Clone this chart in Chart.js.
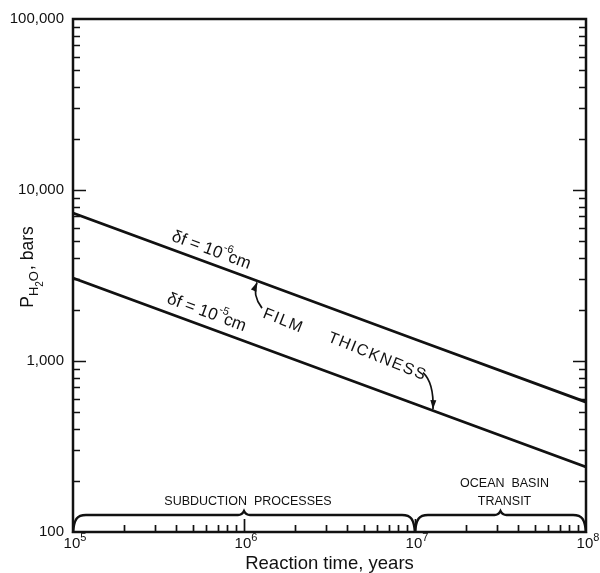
<!DOCTYPE html>
<html>
<head>
<meta charset="utf-8">
<script src="https://cdn.jsdelivr.net/npm/chart.js@4.4.1/dist/chart.umd.min.js"></script>
<style>
  html, body { margin: 0; background: #fff; }
  #wrap { width: 600px; height: 573px; }
</style>
</head>
<body>
<div id="wrap"><canvas id="chart"></canvas></div>
<script>
// reaction time (years) vs water pressure for two film thicknesses
const reactionTime = [1e5, 1e6, 1e7, 1e8];
const pThin  = [7340, 3140, 1340, 575];   // δf = 10^-6 cm
const pThick = [3060, 1310, 560, 240];    // δf = 10^-5 cm

const xTicks = [1e5, 1e6, 1e7, 1e8];
const xTickExp = ['5', '6', '7', '8'];
const yTicks = [100, 1000, 10000, 100000];
const yTickLabels = ['100', '1,000', '10,000', '100,000'];

// process brackets along the time axis
const bracketFrom = [1e5, 1e7];
const bracketTo = [1e7, 1e8];
const bracketLabels = [['SUBDUCTION  PROCESSES'], ['OCEAN  BASIN', 'TRANSIT']];

const FONT = '"Liberation Sans", Arial, sans-serif';
const INK = '#111';

function lineAt(chart, ds, px) {
    const pts = chart.getDatasetMeta(ds).data;
    for (let i = 0; i < pts.length - 1; i++) {
        const a = pts[i], b = pts[i + 1];
        if (px >= a.x && px <= b.x) {
            const t = (px - a.x) / (b.x - a.x);
            return { y: a.y + t * (b.y - a.y), ang: Math.atan2(b.y - a.y, b.x - a.x) };
        }
    }
    const a = pts[0], b = pts[pts.length - 1];
    return { y: a.y, ang: Math.atan2(b.y - a.y, b.x - a.x) };
}

// draw text runs (with super/subscripts) rotated around x,y
function drawRuns(ctx, x, y, ang, runs, center) {
    ctx.save();
    ctx.translate(x, y);
    ctx.rotate(ang);
    let w = 0;
    runs.forEach(r => { ctx.font = r.s + 'px ' + FONT; w += ctx.measureText(r.t).width + (r.gap || 0); });
    let cx = center ? -w / 2 : 0;
    ctx.textBaseline = 'alphabetic';
    ctx.textAlign = 'left';
    runs.forEach(r => {
        ctx.font = r.s + 'px ' + FONT;
        ctx.fillText(r.t, cx, r.dy || 0);
        cx += ctx.measureText(r.t).width + (r.gap || 0);
    });
    ctx.restore();
}

function arrow(ctx, x0, y0, cx, cy, x1, y1) {
    ctx.beginPath();
    ctx.moveTo(x0, y0);
    ctx.quadraticCurveTo(cx, cy, x1, y1);
    ctx.stroke();
    const a = Math.atan2(y1 - cy, x1 - cx);
    ctx.beginPath();
    ctx.moveTo(x1, y1);
    ctx.lineTo(x1 - 9 * Math.cos(a) + 3 * Math.sin(a), y1 - 9 * Math.sin(a) - 3 * Math.cos(a));
    ctx.lineTo(x1 - 9 * Math.cos(a) - 3 * Math.sin(a), y1 - 9 * Math.sin(a) + 3 * Math.cos(a));
    ctx.closePath();
    ctx.fill();
}

const decor = {
    id: 'decor',
    afterDraw(chart) {
        const { ctx, chartArea: a, scales: { x, y } } = chart;
        ctx.save();
        ctx.strokeStyle = INK;
        ctx.fillStyle = INK;
        ctx.lineCap = 'butt';

        // frame
        ctx.lineWidth = 2.5;
        ctx.strokeRect(a.left, a.top, a.right - a.left, a.bottom - a.top);

        // inside ticks, left and right
        ctx.lineWidth = 1.7;
        ctx.beginPath();
        for (let d = 100; d < 100000; d *= 10) {
            for (let m = 1; m < 10; m++) {
                if (m === 1 && d === 100) continue;
                const py = Math.round(y.getPixelForValue(d * m)) + 0.5;
                const len = m === 1 ? 13 : 7;
                ctx.moveTo(a.left, py); ctx.lineTo(a.left + len, py);
                ctx.moveTo(a.right, py); ctx.lineTo(a.right - len, py);
            }
        }
        // inside ticks, bottom
        for (let d = 1e5; d < 1e8; d *= 10) {
            for (let m = 1; m < 10; m++) {
                if (m === 1 && d === 1e5) continue;
                const px = Math.round(x.getPixelForValue(d * m)) + 0.5;
                const len = m === 1 ? 13 : 7;
                ctx.moveTo(px, a.bottom); ctx.lineTo(px, a.bottom - len);
            }
        }
        ctx.stroke();

        // x tick labels with exponent
        xTicks.forEach((v, i) => {
            const px = x.getPixelForValue(v);
            drawRuns(ctx, px + 2, a.bottom + 16, 0, [{ t: '10', s: 15 }, { t: xTickExp[i], s: 11, dy: -7 }], true);
        });

        // y axis title P_H2O, bars
        drawRuns(ctx, 33, 267, -Math.PI / 2, [
            { t: 'P', s: 17.5 },
            { t: 'H', s: 13, dy: 5 },
            { t: '2', s: 10, dy: 10 },
            { t: 'O', s: 13, dy: 5, gap: 1 },
            { t: ', bars', s: 17.5 }
        ], true);

        // brackets
        ctx.lineWidth = 2.4;
        const base = a.bottom + 1, h = 18;
        bracketFrom.forEach((f, i) => {
            const x0 = x.getPixelForValue(f), x1 = x.getPixelForValue(bracketTo[i]);
            const top = base - h, mid = (x0 + x1) / 2;
            ctx.beginPath();
            ctx.moveTo(x0, base);
            ctx.bezierCurveTo(x0 + 1, top + 4, x0 + 4, top, x0 + 13, top);
            ctx.lineTo(mid - 6, top);
            ctx.quadraticCurveTo(mid - 2, top, mid, top - 4);
            ctx.quadraticCurveTo(mid + 2, top, mid + 6, top);
            ctx.lineTo(x1 - 13, top);
            ctx.bezierCurveTo(x1 - 4, top, x1 - 1, top + 4, x1, base);
            ctx.stroke();
            ctx.font = '12.5px ' + FONT;
            ctx.textAlign = 'center';
            const lines = bracketLabels[i];
            lines.forEach((t, k) => {
                ctx.fillText(t, mid + 4, top - 10 - (lines.length - 1 - k) * 18);
            });
        });

        // line labels
        let p = lineAt(chart, 0, 168);
        drawRuns(ctx, 168 + 8 * Math.sin(p.ang), p.y - 8 * Math.cos(p.ang), p.ang, [
            { t: 'δf = 10', s: 17 }, { t: '-6', s: 11, dy: -9, gap: -2 }, { t: 'cm', s: 17 }
        ]);
        p = lineAt(chart, 1, 163);
        drawRuns(ctx, 163 + 9 * Math.sin(p.ang), p.y - 9 * Math.cos(p.ang), p.ang, [
            { t: 'δf = 10', s: 17 }, { t: '-5', s: 11, dy: -9, gap: -2 }, { t: 'cm', s: 17 }
        ]);

        // FILM  THICKNESS between the lines
        ctx.letterSpacing = '1.5px';
        const mid = px => {
            const u = lineAt(chart, 0, px), l = lineAt(chart, 1, px);
            return { y: (u.y + l.y) / 2, ang: (u.ang + l.ang) / 2 };
        };
        let m = mid(262);
        drawRuns(ctx, 262, m.y + 2, m.ang + 0.03, [{ t: 'FILM', s: 16 }]);
        m = mid(327);
        drawRuns(ctx, 327, m.y + 2, m.ang + 0.03, [{ t: 'THICKNESS', s: 16 }]);
        ctx.letterSpacing = '0px';

        // arrows to the lines
        ctx.lineWidth = 1.7;
        m = mid(262);
        const u = lineAt(chart, 0, 257);
        arrow(ctx, 262, m.y - 7, 252, m.y - 20, 257, u.y + 1.5);
        m = mid(423);
        const l = lineAt(chart, 1, 433);
        arrow(ctx, 423, m.y - 2, 434, m.y + 8, 433, l.y - 1.5);

        ctx.restore();
    }
};

new Chart(document.getElementById('chart'), {
    type: 'line',
    data: {
        labels: reactionTime,
        datasets: [
            { data: reactionTime.map((t, i) => ({ x: t, y: pThin[i] })), borderColor: INK, borderWidth: 2.8, pointRadius: 0, tension: 0 },
            { data: reactionTime.map((t, i) => ({ x: t, y: pThick[i] })), borderColor: INK, borderWidth: 2.8, pointRadius: 0, tension: 0 }
        ]
    },
    options: {
        responsive: true,
        maintainAspectRatio: false,
        animation: false,
        layout: { padding: { top: 19, right: 14, left: 0, bottom: 0 } },
        plugins: { legend: { display: false }, tooltip: { enabled: false } },
        scales: {
            x: {
                type: 'logarithmic',
                min: 1e5,
                max: 1e8,
                afterBuildTicks: s => { s.ticks = xTicks.map(v => ({ value: v })); },
                afterFit: s => { s.height = 41; },
                grid: { display: false },
                border: { display: false },
                ticks: { display: false },
                title: {
                    display: true,
                    text: 'Reaction time, years',
                    color: INK,
                    font: { family: FONT, size: 18.5 },
                    padding: { top: 0, bottom: -2 }
                }
            },
            y: {
                type: 'logarithmic',
                min: 100,
                max: 100000,
                afterBuildTicks: s => { s.ticks = yTicks.map(v => ({ value: v })); },
                afterFit: s => { s.width = 73; },
                grid: { display: false, drawTicks: false },
                border: { display: false },
                ticks: {
                    padding: 9,
                    color: INK,
                    font: { family: FONT, size: 15 },
                    callback: v => yTickLabels[yTicks.indexOf(v)]
                }
            }
        }
    },
    plugins: [decor]
});
</script>
</body>
</html>
